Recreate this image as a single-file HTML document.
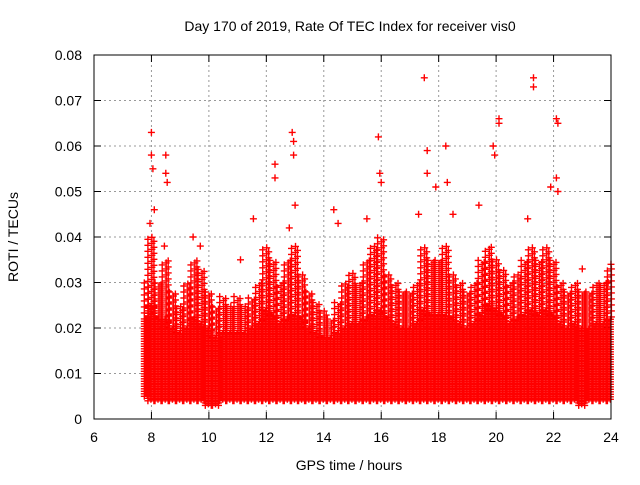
<!DOCTYPE html>
<html><head><meta charset="utf-8"><style>
body{margin:0;background:#fff;width:640px;height:480px;overflow:hidden}
svg{font-family:"Liberation Sans",sans-serif}
</style></head><body>
<svg id="c" width="640" height="480">
<text x="350" y="31" font-size="14" text-anchor="middle">Day 170 of 2019, Rate Of TEC Index for receiver vis0</text>
<text x="349" y="470" font-size="14" text-anchor="middle">GPS time / hours</text>
<text transform="translate(18,237) rotate(-90)" font-size="14" text-anchor="middle">ROTI / TECUs</text>
<g id="grid"></g>
<g id="ticks"></g>
<g id="pts"></g>
<rect x="94" y="55" width="517" height="364" fill="none" stroke="#000"/>
</svg>
<script>
const xTicks=[6,8,10,12,14,16,18,20,22,24];
const yTicks=[0,0.01,0.02,0.03,0.04,0.05,0.06,0.07,0.08];
const yTickLabels=["0","0.01","0.02","0.03","0.04","0.05","0.06","0.07","0.08"];
const binTimes=[7.75,8,8.25,8.5,8.75,9,9.25,9.5,9.75,10,10.25,10.5,10.75,11,11.25,11.5,11.75,12,12.25,12.5,12.75,13,13.25,13.5,13.75,14,14.25,14.5,14.75,15,15.25,15.5,15.75,16,16.25,16.5,16.75,17,17.25,17.5,17.75,18,18.25,18.5,18.75,19,19.25,19.5,19.75,20,20.25,20.5,20.75,21,21.25,21.5,21.75,22,22.25,22.5,22.75,23,23.25,23.5,23.75,24];
const sparseTop=[30,40,30,35,28,25,30,35,33,28,25,27,25,27,25,27,30,38,35,30,35,38,32,28,26,24,22,26,30,32,30,35,38,40,32,30,28,28,30,38,35,35,38,32,30,28,30,35,38,35,33,30,32,35,38,35,38,35,30,28,30,28,28,30,30,33];
const denseTop=[22,25,22,22,20,19,20,22,21,20,18,19,19,19,19,20,21,24,23,21,22,23,22,20,19,18,18,19,20,21,21,22,23,24,22,21,20,20,21,24,23,23,23,22,21,20,21,23,25,24,23,21,22,23,24,23,24,23,21,20,21,20,20,21,21,22];
const binLow=[5,4,4,4,4,4,4,4,4,3,3,4,4,4,4,4,4,4,4,4,4,4,4,4,4,4,4,4,4,4,4,4,4,4,4,4,4,4,4,4,4,4,4,4,4,4,4,4,4,4,4,4,4,4,4,4,4,4,4,4,4,3,4,4,4,4];
const spikeT=[8,8,8.05,8.5,8.5,8.55,8.45,12.3,12.3,12.9,12.95,12.95,13,15.9,15.95,16,17.5,17.6,17.6,18.25,18.3,19.9,19.95,20.1,20.1,21.3,21.3,21.9,22.1,22.15,22.1,22.15,19.4,21.1,11.55,9.45,9.7,14.35,14.5,15.5,17.3,17.9,18.5,11.1,23,24,23.9,8.1,12.8,7.95];
const spikeV=[0.063,0.058,0.055,0.058,0.054,0.052,0.038,0.056,0.053,0.063,0.061,0.058,0.047,0.062,0.054,0.052,0.075,0.059,0.054,0.06,0.052,0.06,0.058,0.066,0.065,0.075,0.073,0.051,0.066,0.065,0.053,0.05,0.047,0.044,0.044,0.04,0.038,0.046,0.043,0.044,0.045,0.051,0.045,0.035,0.033,0.034,0.03,0.046,0.042,0.043];
const X=t=>94+(t-6)*517/18, Y=v=>419-v*364/0.08;
const NS="http://www.w3.org/2000/svg";
const g=document.getElementById('grid'),tk=document.getElementById('ticks'),pg=document.getElementById('pts');
function mk(tag,at,par){const e=document.createElementNS(NS,tag);for(const k in at)e.setAttribute(k,at[k]);par.appendChild(e);return e;}
xTicks.forEach(t=>{const x=X(t);
 if(t>6&&t<24){const l=mk('line',{x1:x,x2:x,y1:55,y2:419,stroke:'#999','stroke-dasharray':'2,3'},g);
 
 }
 mk('line',{x1:x,x2:x,y1:419,y2:412,stroke:'#000'},tk);mk('line',{x1:x,x2:x,y1:55,y2:62,stroke:'#000'},tk);
 const tx=mk('text',{x:x,y:442,'font-size':14,'text-anchor':'middle'},tk);tx.textContent=t;
 
 });
yTicks.forEach((v,i)=>{const y=Y(v);
 if(i>0&&i<yTicks.length-1){const l=mk('line',{x1:94,x2:611,y1:y,y2:y,stroke:'#999','stroke-dasharray':'2,3'},g);
 
 }
 mk('line',{x1:94,x2:101,y1:y,y2:y,stroke:'#000'},tk);mk('line',{x1:611,x2:604,y1:y,y2:y,stroke:'#000'},tk);
 const tx=mk('text',{x:82,y:y+5,'font-size':14,'text-anchor':'end'},tk);tx.textContent=yTickLabels[i];
 
 });
let d='';const cross=(x,y)=>{d+=`M${(x-3.5).toFixed(1)} ${y.toFixed(1)}h7M${x.toFixed(1)} ${(y-3.5).toFixed(1)}v7`;};
const step=(24-7.75)/(binTimes.length-1);
binTimes.forEach((t,i)=>{
 const x0=X(t-step/2),x1=X(t+step/2);let c=0;
 for(let x=Math.max(x0,X(7.75));x<=Math.min(x1,X(24));x+=3,c++){
  const lo=Y(binLow[i]/1000),dt=Y(denseTop[i]/1000),st=Y(sparseTop[i]/1000);
  for(let y=lo-(c%2)*1.5;y>=dt;y-=2.5)cross(x,y);
  for(let y=dt-(c%3)*2;y>=st;y-=6)cross(x+(c%2),y);
 }});
spikeT.forEach((t,i)=>cross(X(t),Y(spikeV[i])));
const p=mk('path',{d:d,stroke:'#f00','stroke-width':1.4,fill:'none'},pg);


</script>
</body></html>
